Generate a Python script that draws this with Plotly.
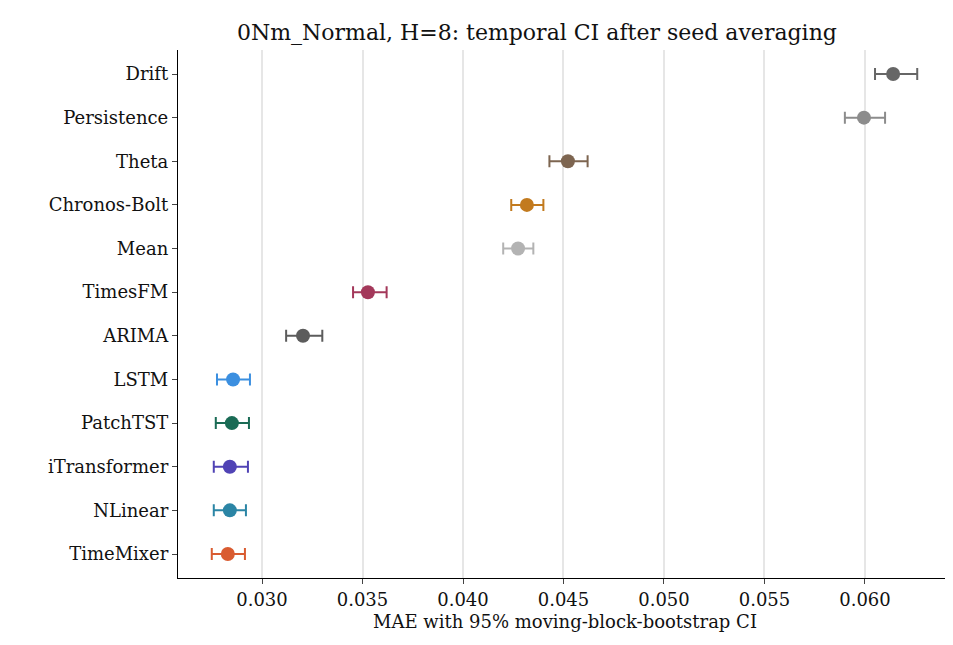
import plotly.graph_objects as go

models = ["Drift","Persistence","Theta","Chronos-Bolt","Mean","TimesFM","ARIMA",
          "LSTM","PatchTST","iTransformer","NLinear","TimeMixer"]
mae = [0.0614,0.05995,0.04522,0.04318,0.04274,0.03527,0.03204,0.02856,0.0285,0.0284,0.0284,0.0283]
lo  = [0.0605,0.0590,0.0443,0.0424,0.0420,0.03453,0.0312,0.02776,0.0277,0.0276,0.0276,0.0275]
hi  = [0.0626,0.0610,0.0462,0.0440,0.0435,0.0362,0.0330,0.0294,0.02935,0.0293,0.0292,0.02915]
colors = ["#666666","#8c8c8c","#7d6550","#c27a1e","#b3b3b3","#a3385a","#5c5c5c",
          "#3b8fe0","#1a6b55","#5043b5","#2b85a5","#d95b30"]
xticks = [0.030,0.035,0.040,0.045,0.050,0.055,0.060]

fig = go.Figure()
for m, v, l, h, c in zip(models, mae, lo, hi, colors):
    fig.add_trace(go.Scatter(
        x=[v], y=[m], mode="markers",
        marker=dict(size=14, color=c),
        error_x=dict(type="data", symmetric=False, array=[h-v], arrayminus=[v-l],
                     color=c, thickness=2, width=6),
        showlegend=False))

fig.update_layout(
    width=953, height=645, plot_bgcolor="white", paper_bgcolor="white",
    margin=dict(l=170, r=9, t=42, b=75, autoexpand=False),
    font=dict(family="DejaVu Serif", size=18, color="#111"),
    title=dict(text="0Nm_Normal, H=8: temporal CI after seed averaging",
               x=0.555, xanchor="center", y=0.975, font=dict(size=22)),
)
fig.update_xaxes(range=[0.02582,0.06433], tickvals=xticks, automargin=False,
                 ticktext=[f"{t:.3f}" for t in xticks], tickfont=dict(size=18),
                 showgrid=True, gridcolor="#e6e6e6", gridwidth=1.5,
                 showline=True, linecolor="black", linewidth=1.3,
                 ticks="outside", ticklen=5, zeroline=False,
                 title=dict(text="MAE with 95% moving-block-bootstrap CI", standoff=6,
                            font=dict(size=18)))
fig.update_yaxes(categoryorder="array", categoryarray=models[::-1], automargin=False,
                 range=[-0.55, 11.55], showgrid=False, tickfont=dict(size=18),
                 showline=True, linecolor="black", linewidth=1.3,
                 ticks="outside", ticklen=5)
fig.write_html("out.html")
